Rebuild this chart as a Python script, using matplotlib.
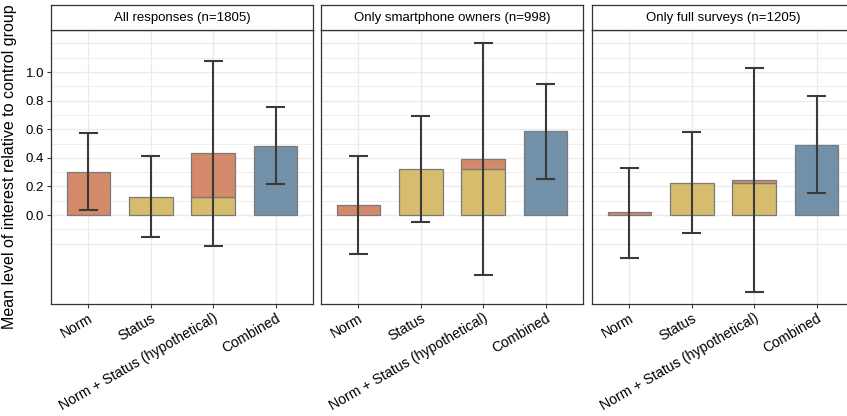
import matplotlib.pyplot as plt
import matplotlib.transforms as mtransforms
import numpy as np

plt.rcParams["font.family"] = ["Liberation Sans", "DejaVu Sans"]

# --- dati ---
pannelli = ["All responses (n=1805)", "Only smartphone owners (n=998)", "Only full surveys (n=1205)"]
categorie = ["Norm", "Status", "Norm + Status (hypothetical)", "Combined"]

norm_val = [0.303, 0.072, 0.019]
status_val = [0.128, 0.320, 0.226]
combined_val = [0.485, 0.585, 0.492]

# limiti intervallo (basso, alto) per Norm, Status, Norm+Status, Combined
err_low = [
    [0.035, -0.154, -0.217, 0.219],
    [-0.273, -0.049, -0.420, 0.252],
    [-0.298, -0.124, -0.538, 0.156],
]
err_high = [
    [0.576, 0.415, 1.077, 0.755],
    [0.415, 0.692, 1.203, 0.916],
    [0.331, 0.580, 1.028, 0.832],
]

col_norm = "#D4896A"
col_status = "#D6BC6C"
col_comb = "#7290A8"
col_edge = "#7a7a7a"
col_err = "#3a3a3a"
col_grid = "#EBEBEB"

W, H = 847, 416
fig = plt.figure(figsize=(W / 100, H / 100), dpi=100)

# posizione pannelli in pixel
lefts = [51, 321, 592]
pw = 262
top_px, bot_px, strip_top = 30, 304, 5


def fx(px):
    return px / W


def fy(py):
    return 1 - py / H


x = np.arange(len(categorie))
bw = 0.7
shift = mtransforms.ScaledTranslation(3 / 100, 0, fig.dpi_scale_trans)

for i, titolo in enumerate(pannelli):
    ax = fig.add_axes([fx(lefts[i]), fy(bot_px), fx(pw), (bot_px - top_px) / H])
    ax.set_xlim(-0.6, 3.6)
    ax.set_ylim(-0.622, 1.294)

    # griglia
    for g in np.arange(-0.2, 1.21, 0.1):
        major = abs(round(g * 10)) % 2 == 0
        ax.axhline(g, color=col_grid, lw=1.0 if major else 0.6, zorder=0)
    for xx in x:
        ax.axvline(xx, color=col_grid, lw=1.0, zorder=0)

    kw = dict(width=bw, edgecolor=col_edge, linewidth=0.9, zorder=2)
    ax.bar(x[0], norm_val[i], color=col_norm, **kw)
    ax.bar(x[1], status_val[i], color=col_status, **kw)
    ax.bar(x[2], status_val[i], color=col_status, **kw)
    ax.bar(x[2], norm_val[i], bottom=status_val[i], color=col_norm, **kw)
    ax.bar(x[3], combined_val[i], color=col_comb, **kw)

    # barre d'errore
    for j in range(len(categorie)):
        lo, hi = err_low[i][j], err_high[i][j]
        ax.vlines(x[j], lo, hi, color=col_err, lw=1.5, zorder=3)
        ax.hlines([lo, hi], x[j] - 0.15, x[j] + 0.15, color=col_err, lw=1.5, zorder=3)

    ax.set_xticks(x)
    ax.set_xticklabels(categorie, rotation=30, ha="right", rotation_mode="anchor", fontsize=10.2)
    for lab in ax.get_xticklabels():
        lab.set_transform(lab.get_transform() + shift)
    ax.tick_params(axis="x", length=3, width=0.8, color="#333333", pad=2)
    ax.set_yticks(np.arange(0, 1.01, 0.2))
    if i == 0:
        ax.set_yticklabels([f"{v:.1f}" for v in np.arange(0, 1.01, 0.2)], fontsize=9.5)
        ax.tick_params(axis="y", length=3, width=0.8, color="#333333", pad=2)
        ax.set_ylabel("Mean level of interest relative to control group", fontsize=11.5, labelpad=6)
    else:
        ax.tick_params(axis="y", length=0, labelleft=False)

    for s in ax.spines.values():
        s.set_color("#333333")
        s.set_linewidth(0.9)

    # striscia del titolo
    sx = fig.add_axes([fx(lefts[i]), fy(top_px), fx(pw), (top_px - strip_top) / H])
    sx.set_xticks([])
    sx.set_yticks([])
    for s in sx.spines.values():
        s.set_color("#333333")
        s.set_linewidth(0.9)
    sx.text(0.5, 0.48, titolo, ha="center", va="center", fontsize=9.5, transform=sx.transAxes)

fig.savefig("out.png", dpi=100)
